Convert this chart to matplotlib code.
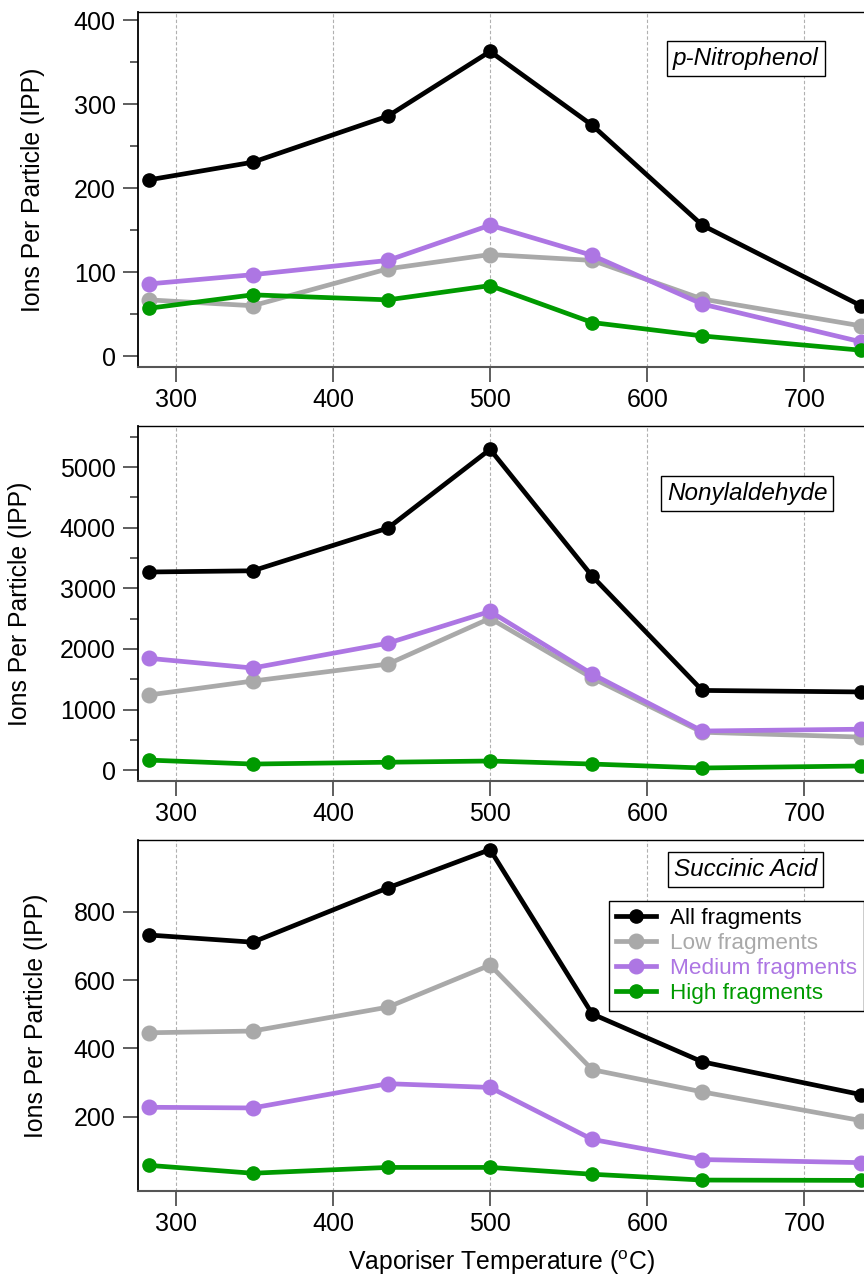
import matplotlib
matplotlib.use("Agg")
import matplotlib.pyplot as plt
from matplotlib.ticker import MultipleLocator

plt.rcParams['font.family'] = ['Liberation Sans', 'DejaVu Sans']
plt.rcParams['mathtext.fontset'] = 'custom'
plt.rcParams['mathtext.rm'] = 'Liberation Sans'

## DATA
temps = [283, 349, 435, 500, 565, 635, 736]
series_names = ['All fragments', 'Low fragments', 'Medium fragments', 'High fragments']
colors = ['black', '#a9a9a9', '#ad76e3', '#009a00']

compounds = ['p-Nitrophenol', 'Nonylaldehyde', 'Succinic Acid']

nitro_all = [210, 231, 286, 363, 275, 156, 60]
nitro_low = [67, 60, 104, 121, 114, 68, 36]
nitro_med = [86, 97, 114, 156, 120, 62, 17]
nitro_high = [57, 73, 67, 84, 40, 24, 7]

nonyl_all = [3270, 3290, 3995, 5295, 3200, 1315, 1290]
nonyl_low = [1240, 1470, 1750, 2505, 1520, 625, 545]
nonyl_med = [1845, 1685, 2095, 2620, 1585, 645, 675]
nonyl_high = [165, 100, 130, 150, 100, 35, 68]

succ_all = [732, 711, 870, 982, 501, 361, 265]
succ_low = [446, 451, 521, 644, 338, 273, 189]
succ_med = [228, 226, 297, 286, 134, 75, 66]
succ_high = [58, 35, 52, 52, 32, 15, 14]

panel_data = [
    [nitro_all, nitro_low, nitro_med, nitro_high],
    [nonyl_all, nonyl_low, nonyl_med, nonyl_high],
    [succ_all, succ_low, succ_med, succ_high],
]

## LAYOUT
fig = plt.figure(figsize=(8.64, 12.79), dpi=100)
W, H = 864, 1279
boxes = [(12, 367), (426, 781), (840, 1191)]  # top / bottom pixel of each panel
left = 138

ylims = [(-13, 410), (-180, 5680), (-17, 1010)]
ymajor = [100, 1000, 200]
yminor = [50, 500, None]
ylab_x = [-0.128, -0.146, -0.124]
lab_pos = [(0.835, 0.868), (0.837, 0.81), (0.835, 0.915)]

axes = []
for k in range(3):
    top, bot = boxes[k]
    ax = fig.add_axes([left / W, 1 - bot / H, (W - left) / W + 0.002, (bot - top) / H])
    axes.append(ax)
    data = panel_data[k]
    # draw so that black ends on top
    for idx in [1, 2, 3, 0]:
        ms = 9.5 if idx in (0, 3) else 10.5
        ax.plot(temps, data[idx], color=colors[idx], lw=3.4, marker='o', ms=ms,
                label=series_names[idx], zorder=3 + (idx == 0))
    ax.set_xlim(276, 739)
    ax.set_ylim(*ylims[k])
    ax.xaxis.set_major_locator(MultipleLocator(100))
    ax.yaxis.set_major_locator(MultipleLocator(ymajor[k]))
    if yminor[k]:
        ax.yaxis.set_minor_locator(MultipleLocator(yminor[k]))
    if k == 2:
        ax.set_yticks([200, 400, 600, 800])
    ax.grid(axis='x', ls=(0, (3, 2)), color='#b0b0b0', lw=0.8)
    ax.tick_params(axis='both', which='major', direction='out', length=11, width=1.1,
                   labelsize=18, color='#333333')
    ax.tick_params(axis='x', pad=4)
    ax.tick_params(axis='y', pad=5)
    ax.tick_params(axis='y', which='minor', direction='out', length=6, width=1.1, color='#333333')
    ax.spines['right'].set_visible(False)
    ax.spines['top'].set_linewidth(1.0)
    ax.spines['left'].set_linewidth(1.3)
    ax.spines['bottom'].set_linewidth(1.5)
    ax.spines['bottom'].set_color('#555555')
    ax.set_ylabel('Ions Per Particle (IPP)', fontsize=17.8)
    ax.yaxis.set_label_coords(ylab_x[k], 0.5)
    ax.text(lab_pos[k][0], lab_pos[k][1], compounds[k], transform=ax.transAxes,
            ha='center', va='center', fontsize=17.5, style='italic',
            bbox=dict(boxstyle='square,pad=0.25', fc='white', ec='black', lw=1.0))

ax = axes[2]
ax.set_xlabel('Vaporiser Temperature ($^{\\mathrm{o}}$C)', fontsize=17.8, labelpad=9)
handles, labels = ax.get_legend_handles_labels()
order = [labels.index(n) for n in series_names]
leg = ax.legend([handles[i] for i in order], [labels[i] for i in order],
                loc='upper right', bbox_to_anchor=(0.997, 0.826), fontsize=16.2,
                frameon=True, fancybox=False, edgecolor='black', framealpha=1,
                handlelength=1.8, handletextpad=0.6, labelspacing=0.18,
                borderpad=0.3, borderaxespad=0)
leg.get_frame().set_linewidth(1.0)
for txt, c in zip(leg.get_texts(), colors):
    txt.set_color(c)

fig.savefig('out.png', dpi=100)
